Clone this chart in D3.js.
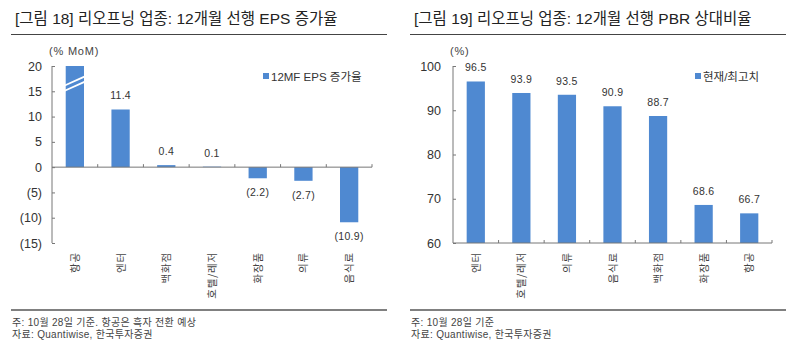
<!DOCTYPE html>
<html><head><meta charset="utf-8">
<script src="https://cdn.jsdelivr.net/npm/d3@7"></script>
<style>
html,body{margin:0;padding:0;background:#fff;}
svg text{font-family:"Liberation Sans","Noto Sans CJK KR",Arial,sans-serif;fill:#333;}
</style></head>
<body>
<svg id="c" width="800" height="359"></svg>
<script>
// ---- Data ----
const epsTitle = "[그림 18] 리오프닝 업종: 12개월 선행 EPS 증가율";
const epsCats = ["항공","엔터","백화점","호텔/레저","화장품","의류","음식료"];
const epsValues = [null, 11.4, 0.4, 0.1, -2.2, -2.7, -10.9]; // 항공: 흑자 전환 (off-scale, broken bar)
const epsTicks = [-15,-10,-5,0,5,10,15,20];
const epsLegend = "12MF EPS 증가율";
const epsUnit = "(% MoM)";
const epsNotes = ["주: 10월 28일 기준. 항공은 흑자 전환 예상","자료: Quantiwise, 한국투자증권"];

const pbrTitle = "[그림 19] 리오프닝 업종: 12개월 선행 PBR 상대비율";
const pbrCats = ["엔터","호텔/레저","의류","음식료","백화점","화장품","항공"];
const pbrValues = [96.5, 93.9, 93.5, 90.9, 88.7, 68.6, 66.7];
const pbrTicks = [60,70,80,90,100];
const pbrLegend = "현재/최고치";
const pbrUnit = "(%)";
const pbrNotes = ["주: 10월 28일 기준","자료: Quantiwise, 한국투자증권"];

const BLUE = "#4f89d1";
const svg = d3.select("#c");
const fmt = v => v < 0 ? "(" + d3.format(".1f")(-v) + ")" : d3.format(".1f")(v);
const fmtTick = v => v < 0 ? "(" + (-v) + ")" : String(v);

function frame(x0, x1, title, notes){
  svg.append("text").attr("x", x0 + 4).attr("y", 24).attr("font-size", 15.5).style("fill","#222").text(title);
  svg.append("line").attr("x1", x0).attr("x2", x1).attr("y1", 34.5).attr("y2", 34.5).attr("stroke","#444").attr("stroke-width",1.2);
  svg.append("line").attr("x1", x0).attr("x2", x1).attr("y1", 310).attr("y2", 310).attr("stroke","#808080").attr("stroke-width",2.2);
  notes.forEach((t,i)=> svg.append("text").attr("x", x0+1).attr("y", 326 + i*11.5).attr("font-size", 10).style("letter-spacing","0.3px").style("fill","#444").text(t));
}

function chart(opt){
  const g = svg.append("g");
  const y = d3.scaleLinear().domain(opt.domain).range([243, 66]);
  const x = d3.scaleBand().domain(opt.cats).range([opt.left, opt.right]).paddingInner(0.6).paddingOuter(0.3);
  const base = Math.max(opt.domain[0], 0);

  // y axis
  const ya = g.append("g").attr("transform", `translate(${opt.left},0)`)
    .call(d3.axisLeft(y).tickValues(opt.ticks).tickSize(-3).tickPadding(opt.tickPad).tickFormat(fmtTick));
  ya.select(".domain").attr("stroke","#777").attr("d", `M0,${y(opt.domain[1])}V${y(opt.domain[0])}`);
  ya.selectAll(".tick line").attr("stroke","#777");
  ya.selectAll(".tick text").attr("font-size", 12.5).style("font-family","Liberation Sans, Arial, sans-serif").style("fill","#333");

  // bars
  const top = opt.domain[1];
  g.selectAll("rect.bar").data(opt.cats).enter().append("rect")
    .attr("x", c => x(c)).attr("width", x.bandwidth())
    .attr("y", (c,i) => { const v = opt.values[i] === null ? top : opt.values[i]; return Math.min(y(v), y(base)); })
    .attr("height", (c,i) => { const v = opt.values[i] === null ? top : opt.values[i]; return Math.abs(y(v) - y(base)); })
    .attr("fill", BLUE);

  // break marks for off-scale bars
  opt.cats.forEach((c,i) => {
    if (opt.values[i] !== null) return;
    [0, 1.05].forEach(o => {
      g.append("line").attr("x1", x(c) - 1).attr("x2", x(c) + x.bandwidth() + 1)
        .attr("y1", y(15.1 + o)).attr("y2", y(16.9 + o))
        .attr("stroke", "#fff").attr("stroke-width", 1.8);
    });
  });

  // x axis line at base and ticks between categories (pointing up)
  g.append("line").attr("x1", opt.left).attr("x2", opt.right).attr("y1", y(base)).attr("y2", y(base)).attr("stroke","#777");
  const step = x.step();
  d3.range(1, opt.cats.length + 1).forEach(k => {
    const tx = opt.left + k * step;
    g.append("line").attr("x1", tx).attr("x2", tx).attr("y1", y(base)).attr("y2", y(base) - 3).attr("stroke","#777");
  });

  // category labels (rotated)
  g.selectAll("text.cat").data(opt.cats).enter().append("text")
    .attr("transform", c => `translate(${x(c) + x.bandwidth()/2 + 4},252) rotate(-90)`)
    .attr("text-anchor","end").attr("font-size", 10.5).style("letter-spacing","0.8px").style("fill","#444")
    .style("font-family","Noto Sans CJK KR, sans-serif").text(c => c);

  // value labels
  g.selectAll("text.val").data(opt.cats).enter().append("text")
    .filter((c,i) => opt.values[i] !== null)
    .attr("x", c => x(c) + x.bandwidth()/2)
    .attr("y", c => { const v = opt.values[opt.cats.indexOf(c)]; return v >= 0 ? y(v) - 10 : y(v) + 18; })
    .attr("text-anchor","middle").attr("font-size", 10.5).style("letter-spacing","0.3px").style("fill","#333")
    .text(c => fmt(opt.values[opt.cats.indexOf(c)]));

  // unit
  g.append("text").attr("x", opt.unitX).attr("y", 55).attr("font-size", 11).style("letter-spacing","0.8px").style("fill","#444").text(opt.unit);

  // legend
  g.append("rect").attr("x", opt.legX).attr("y", 73).attr("width", 6).attr("height", 6).attr("fill", BLUE);
  g.append("text").attr("x", opt.legX + 8).attr("y", 80.5).attr("font-size", 11.5).style("fill","#333").text(opt.legend);
}

frame(11, 387, epsTitle, epsNotes);
frame(410, 786, pbrTitle, pbrNotes);

chart({cats: epsCats, values: epsValues, domain: [-15, 20], ticks: epsTicks, left: 52, right: 372,
       tickPad: 10, unit: epsUnit, unitX: 49, legend: epsLegend, legX: 263});
chart({cats: pbrCats, values: pbrValues, domain: [60, 100], ticks: pbrTicks, left: 453, right: 772,
       tickPad: 12, unit: pbrUnit, unitX: 450, legend: pbrLegend, legX: 695});
</script>
</body></html>
